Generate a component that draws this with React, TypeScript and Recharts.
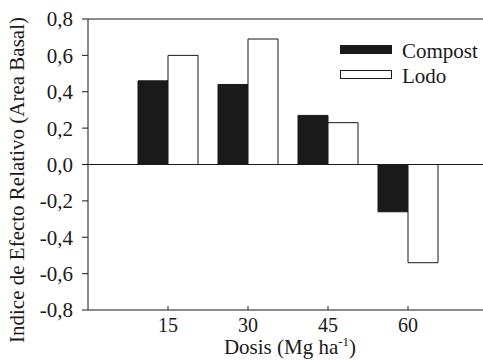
import { Bar, BarChart, Label, Legend, ReferenceLine, XAxis, YAxis } from "recharts";

// ── datos ─────────────────────────────────────────────
const DOSIS = ["15", "30", "45", "60"];
const COMPOST = [0.46, 0.44, 0.27, -0.26];
const LODO = [0.6, 0.69, 0.23, -0.54];
const Y_TICKS = [-0.8, -0.6, -0.4, -0.2, 0, 0.2, 0.4, 0.6, 0.8];

const data = DOSIS.map((d, i) => ({ dosis: d, compost: COMPOST[i], lodo: LODO[i] }));

const FONT = "Times New Roman, Times, Liberation Serif, DejaVu Serif, serif";
const INK = "#1a1a1a";
const TXT = { fontFamily: FONT, fill: INK };

const fmt = (v: number) => v.toFixed(1).replace(".", ",");

function XTick({ x, y, payload }: any) {
	return (
		<g>
			<line x1={x} y1={y} x2={x} y2={y - 4} stroke={INK} strokeWidth={1} />
			<text x={x} y={y + 22} textAnchor="middle" fontSize={20} style={TXT}>
				{payload.value}
			</text>
		</g>
	);
}

function LegendBox({ payload }: any) {
	const items = payload ?? [];
	return (
		<svg width={143} height={50}>
			{items.map((it: any, i: number) => (
				<g key={it.value} transform={`translate(0, ${i * 25})`}>
					<rect
						x={0.5}
						y={5.5}
						width={51}
						height={8}
						fill={it.payload?.fill ?? it.color}
						stroke={INK}
						strokeWidth={1}
					/>
					<text x={62} y={18} fontSize={21} style={TXT}>
						{it.value}
					</text>
				</g>
			))}
		</svg>
	);
}

export default function App() {
	return (
		<div style={{ position: "absolute", left: 0, top: 0, background: "#fff", fontFamily: FONT }}>
			<BarChart
				width={483}
				height={361}
				data={data}
				margin={{ top: 19, right: 0, left: 0, bottom: 0 }}
				barGap={0}
				barSize={30}
			>
				<XAxis
					dataKey="dosis"
					height={51}
					padding={{ left: 40, right: 35 }}
					stroke={INK}
					tickLine={false}
					tickSize={0}
					tickMargin={0}
					tick={<XTick />}
					interval={0}
				>
					<Label
						content={() => (
							<text x={290} y={354} textAnchor="middle" fontSize={21} style={TXT}>
								Dosis (Mg ha
								<tspan dy={-8} fontSize={13}>-1</tspan>
								<tspan dy={8}>)</tspan>
							</text>
						)}
					/>
				</XAxis>
				<YAxis
					type="number"
					domain={[-0.8, 0.8]}
					ticks={Y_TICKS}
					width={88}
					stroke={INK}
					tickSize={6}
					tickMargin={9}
					tickFormatter={fmt}
					tick={{ fill: INK, fontSize: 21, style: TXT }}
					allowDataOverflow
				>
					<Label
						content={() => (
							<text
								x={24}
								y={180}
								transform="rotate(-90 24 180)"
								textAnchor="middle"
								fontSize={21}
								style={TXT}
							>
								Indice de Efecto Relativo (Area Basal)
							</text>
						)}
					/>
				</YAxis>
				<ReferenceLine y={0.8} stroke={INK} strokeWidth={1} />
				<ReferenceLine y={0} stroke={INK} strokeWidth={1} />
				<Legend
					layout="vertical"
					align="center"
					verticalAlign="middle"
					content={<LegendBox />}
					wrapperStyle={{ position: "absolute", left: 340, top: 40, width: 143 }}
				/>
				<Bar dataKey="compost" name="Compost" fill={INK} stroke={INK} strokeWidth={1} isAnimationActive={false} />
				<Bar dataKey="lodo" name="Lodo" fill="#ffffff" stroke={INK} strokeWidth={1} isAnimationActive={false} />
			</BarChart>
		</div>
	);
}
